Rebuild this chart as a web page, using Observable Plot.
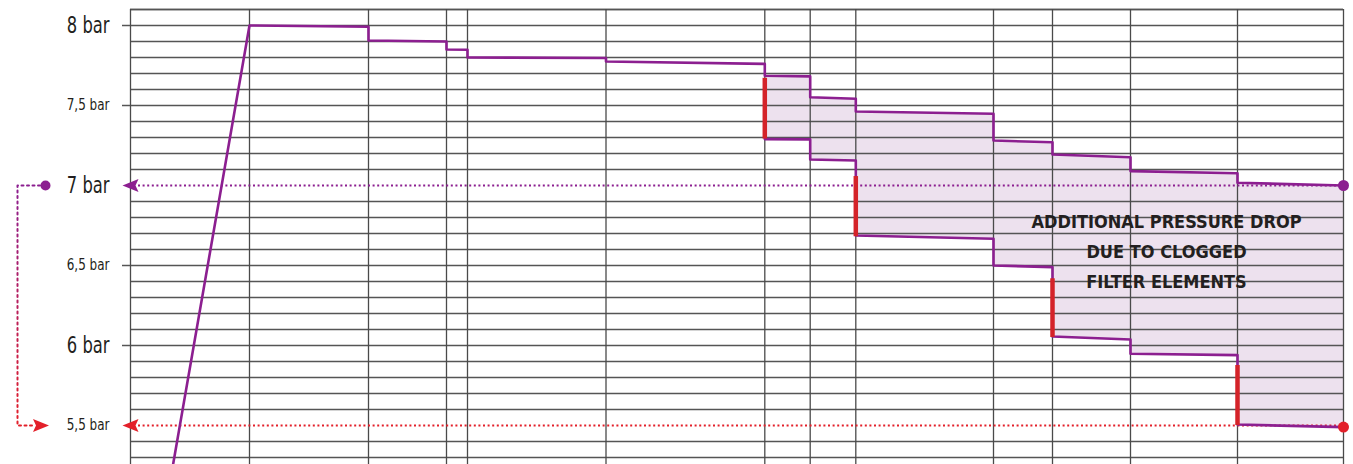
<!DOCTYPE html>
<html>
<head>
<meta charset="utf-8">
<script src="https://cdn.jsdelivr.net/npm/d3@7"></script>
<script src="https://cdn.jsdelivr.net/npm/@observablehq/plot@0.6"></script>
<style>
  html, body { margin: 0; padding: 0; background: #fff; }
  #chart svg { display: block; }
</style>
</head>
<body>
<div id="chart"></div>
<script>
// ---- data (x in stage-position units, pressure in bar) ----
const gridX = [0, 119, 238, 316, 337, 475.5, 634.3, 679.7, 725.3, 863, 922, 1000, 1107, 1213];

// clean-filter pressure curve: ramp start, then stages
const rampStart = { x: 41, p: 5.2 };
const upperX0    = [119, 238, 316, 337, 475.5, 634.3, 679.7, 725.3, 863, 922, 1000, 1107];
const upperX1    = [238, 316, 337, 475.5, 634.3, 679.7, 725.3, 863, 922, 1000, 1107, 1213];
const upperStart = [8.0, 7.906, 7.85, 7.8, 7.775, 7.686, 7.552, 7.4625, 7.281, 7.194, 7.09, 7.017];
const upperEnd   = [7.992, 7.9, 7.848, 7.797, 7.76, 7.682, 7.542, 7.448, 7.27, 7.177, 7.077, 7.0];

// clogged-filter pressure curve
const lowerX0    = [634.3, 679.7, 725.3, 863, 922, 1000, 1107];
const lowerX1    = [679.7, 725.3, 863, 922, 1000, 1107, 1213];
const lowerStart = [7.29, 7.1625, 6.6875, 6.5, 6.056, 5.948, 5.506];
const lowerEnd   = [7.288, 7.156, 6.667, 6.49, 6.0375, 5.94, 5.49];

// additional drop markers (red)
const dropX    = [634.3, 725.3, 922, 1107];
const dropTop  = [7.67, 7.056, 6.417, 5.875];
const dropBot  = [7.29, 6.68, 6.05, 5.5];

const majorTicks = [6, 7, 8];
const minorTicks = [5.5, 6.5, 7.5];
const tickMarks  = [6, 6.5, 7.5, 8];
const cleanLevel = 7.0;
const cloggedLevel = 5.5;
const noteLines = ["ADDITIONAL PRESSURE DROP", "DUE TO CLOGGED", "FILTER ELEMENTS"];
const noteX = 1036, noteY = 6.58;

// ---- derived tables ----
const upperPts = [rampStart];
upperX0.forEach((x0, i) => { upperPts.push({ x: x0, p: upperStart[i] }, { x: upperX1[i], p: upperEnd[i] }); });
const lowerPts = [];
lowerX0.forEach((x0, i) => { lowerPts.push({ x: x0, p: lowerStart[i] }, { x: lowerX1[i], p: lowerEnd[i] }); });
const band = [];
lowerX0.forEach((x0, i) => {
  const j = upperX0.indexOf(x0);
  band.push({ s: i, x: x0, lo: lowerStart[i], hi: upperStart[j] });
  band.push({ s: i, x: lowerX1[i], lo: lowerEnd[i], hi: upperEnd[j] });
});
const drops = dropX.map((x, i) => ({ x, y1: dropTop[i], y2: dropBot[i] }));
const gridY = d3.range(53, 82).map(v => v / 10).filter(v => v !== cleanLevel && v !== cloggedLevel);
const fmt = v => String(v).replace(".", ",") + " bar";

const PURPLE = "#8c1f90", RED = "#e3202a", RED_BAR = "#d42329", FILL = "#ede1ee", GRID = "#555";
const FONT = "'Liberation Sans Narrow', 'DejaVu Sans Condensed', 'Roboto', sans-serif";

const arrowLeft = {
  draw(ctx) { ctx.moveTo(-8, 0); ctx.lineTo(8, -6.5); ctx.lineTo(5, 0); ctx.lineTo(8, 6.5); ctx.closePath(); }
};

const connector = [
  { x: -85, p: cleanLevel }, { x: -113, p: cleanLevel },
  { x: -113, p: cloggedLevel }, { x: -98, p: cloggedLevel }
];

const noteMarks = noteLines.map((line, i) =>
  Plot.text([line], { x: noteX, y: noteY, text: d => d, dy: (i - 1) * 30, fontSize: 18, fontWeight: "bold",
    fill: "#231f20", lineAnchor: "middle", textAnchor: "middle", className: "note" })
);

const plot = Plot.plot({
  width: 1353,
  height: 464,
  marginLeft: 130,
  marginRight: 10,
  marginTop: 9,
  marginBottom: 0,
  style: { fontFamily: FONT, background: "#fff" },
  x: { domain: [0, 1213], axis: null },
  y: { domain: [8.1 - 455 / 160, 8.1], axis: null },
  marks: [
    Plot.areaY(band, { x: "x", y1: "lo", y2: "hi", z: "s", fill: FILL }),
    Plot.ruleY(gridY, { x1: 0, x2: 1213, stroke: GRID, strokeWidth: 1.5 }),
    Plot.ruleY([8.1], { x1: 0, x2: 1213, stroke: GRID, strokeWidth: 1.5 }),
    Plot.ruleX(gridX, { y1: 8.1 - 455 / 160, y2: 8.1, stroke: "#4a4a4a", strokeWidth: 1.3 }),
    Plot.ruleY(tickMarks, { x1: -8, x2: 0, stroke: GRID, strokeWidth: 1.5 }),
    Plot.ruleY([cleanLevel], { x1: 8, x2: 1213, stroke: PURPLE, strokeWidth: 2, strokeDasharray: "2 2.6" }),
    Plot.ruleY([cloggedLevel], { x1: 8, x2: 1213, stroke: RED, strokeWidth: 2, strokeDasharray: "2 2.6" }),
    Plot.line(connector, { x: "x", y: "p", stroke: "url(#connGrad)", strokeWidth: 2, strokeDasharray: "2 3.5" }),
    Plot.line(upperPts, { x: "x", y: "p", stroke: PURPLE, strokeWidth: 2.6 }),
    Plot.line(lowerPts, { x: "x", y: "p", stroke: PURPLE, strokeWidth: 2.6 }),
    Plot.ruleX(drops, { x: "x", y1: "y1", y2: "y2", stroke: RED_BAR, strokeWidth: 4.5 }),
    Plot.dot([{ x: 1213, p: cleanLevel }], { x: "x", y: "p", r: 5.5, fill: PURPLE }),
    Plot.dot([{ x: 1213, p: 5.49 }], { x: "x", y: "p", r: 5.5, fill: RED }),
    Plot.dot([{ x: -85, p: cleanLevel }], { x: "x", y: "p", r: 5, fill: PURPLE }),
    Plot.dot([{ x: 0, p: cleanLevel }], { x: "x", y: "p", symbol: arrowLeft, fill: PURPLE, stroke: "none" }),
    Plot.dot([{ x: 0, p: cloggedLevel }], { x: "x", y: "p", symbol: arrowLeft, fill: RED, stroke: "none" }),
    Plot.dot([{ x: -89.5, p: cloggedLevel }], { x: "x", y: "p", symbol: arrowLeft, rotate: 180, fill: RED, stroke: "none" }),
    Plot.text(majorTicks, { x: 0, y: d => d, text: fmt, dx: -21, textAnchor: "end", fontSize: 23, fill: "#231f20", lineAnchor: "middle", className: "lbl-major" }),
    Plot.text(minorTicks, { x: 0, y: d => d, text: fmt, dx: -21, textAnchor: "end", fontSize: 15.5, fill: "#231f20", lineAnchor: "middle", className: "lbl-minor" }),
    ...noteMarks
  ]
});

// gradient for the dotted connector (purple at 7 bar -> red at 5.5 bar)
const ySc = plot.scale("y");
const ns = "http://www.w3.org/2000/svg";
const defs = document.createElementNS(ns, "defs");
const grad = document.createElementNS(ns, "linearGradient");
grad.setAttribute("id", "connGrad");
grad.setAttribute("gradientUnits", "userSpaceOnUse");
grad.setAttribute("x1", 0); grad.setAttribute("x2", 0);
grad.setAttribute("y1", ySc.apply(cleanLevel)); grad.setAttribute("y2", ySc.apply(cloggedLevel));
[[0, PURPLE], [1, RED]].forEach(([o, c]) => {
  const s = document.createElementNS(ns, "stop");
  s.setAttribute("offset", o); s.setAttribute("stop-color", c);
  grad.appendChild(s);
});
defs.appendChild(grad);
plot.insertBefore(defs, plot.firstChild);

document.getElementById("chart").appendChild(plot);

// condense glyphs to mimic the narrow typeface of the original
function condense(sel, k) {
  plot.querySelectorAll(sel).forEach(el => {
    const len = el.getComputedTextLength();
    if (len > 0) {
      el.setAttribute("textLength", (len * k).toFixed(1));
      el.setAttribute("lengthAdjust", "spacingAndGlyphs");
    }
  });
}
condense(".lbl-major text", 0.79);
condense(".lbl-minor text", 0.86);
</script>
</body>
</html>
